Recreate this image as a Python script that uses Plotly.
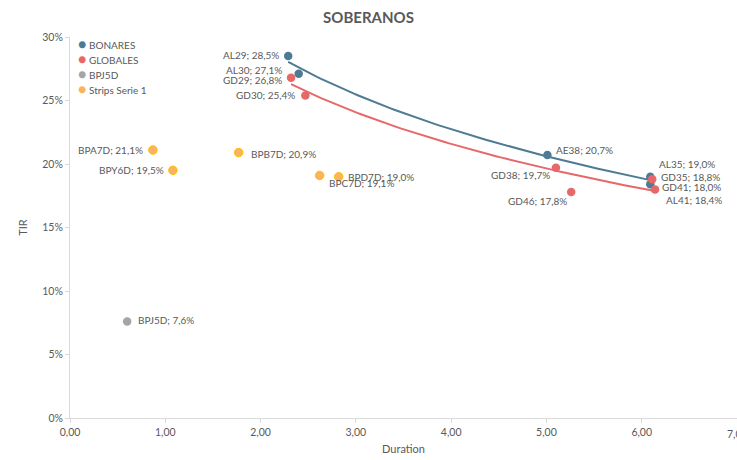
import numpy as np
import plotly.graph_objects as go

# ---- data ----
bon_names = ["AL29", "AL30", "AE38", "AL35", "AL41"]
bon_x = [2.29, 2.40, 5.01, 6.09, 6.09]
bon_y = [28.5, 27.1, 20.7, 19.0, 18.4]

glo_names = ["GD29", "GD30", "GD38", "GD46", "GD35", "GD41"]
glo_x = [2.32, 2.47, 5.10, 5.26, 6.11, 6.14]
glo_y = [26.8, 25.4, 19.7, 17.8, 18.8, 18.0]

bpj_names = ["BPJ5D"]
bpj_x = [0.60]
bpj_y = [7.6]

str_names = ["BPA7D", "BPY6D", "BPB7D", "BPC7D", "BPD7D"]
str_x = [0.87, 1.08, 1.77, 2.62, 2.82]
str_y = [21.1, 19.5, 20.9, 19.1, 19.0]

x_max = 7

C_BON = "#4E7B93"
C_GLO = "#E8686A"
C_BPJ = "#A5A5A5"
C_STR = "#FBB261"
TXT = "#595959"
FONT = "Lato"

# label placement: name -> (xanchor, xshift, yshift)
label_pos = {
    "AL29": ("right", -7, 1), "AL30": ("right", -15, 4), "GD29": ("right", -7, -2),
    "GD30": ("right", -8, 0), "AE38": ("left", 7, 5), "AL35": ("left", 7, 13),
    "GD35": ("left", 7, 2), "GD41": ("left", 5, 2), "AL41": ("left", 14, -16),
    "GD38": ("right", -4, -7), "GD46": ("right", -2, -9),
    "BPA7D": ("right", -8, 0), "BPY6D": ("right", -7, 0), "BPB7D": ("left", 10, -1),
    "BPC7D": ("left", 7, -8), "BPD7D": ("left", 7, 0), "BPJ5D": ("left", 9, 1),
}

def fmt(v):
    return f"{v:.1f}%".replace(".", ",")

fig = go.Figure()

series = [
    ("BONARES", bon_names, bon_x, bon_y, C_BON),
    ("GLOBALES", glo_names, glo_x, glo_y, C_GLO),
    ("BPJ5D", bpj_names, bpj_x, bpj_y, C_BPJ),
    ("Strips Serie 1", str_names, str_x, str_y, C_STR),
]

# trendlines (logarithmic fit) for BONARES and GLOBALES
for name, xs, ys, col in [("BONARES", bon_x, bon_y, C_BON), ("GLOBALES", glo_x, glo_y, C_GLO)]:
    b, a = np.polyfit(np.log(xs), ys, 1)
    xx = np.linspace(min(xs), max(xs), 100)
    fig.add_trace(go.Scatter(x=xx, y=a + b * np.log(xx), mode="lines",
                             line=dict(color=col, width=2), showlegend=False,
                             hoverinfo="skip"))

for i, (name, names, xs, ys, col) in enumerate(series):
    marker = dict(color=col, size=8.5)
    if name == "Strips Serie 1":
        marker["line"] = dict(color="#FFC000", width=1)
    fig.add_trace(go.Scatter(x=xs, y=ys, mode="markers", name=name, marker=marker,
                             showlegend=False))
    for n, x, y in zip(names, xs, ys):
        anc, dx, dy = label_pos[n]
        fig.add_annotation(x=x, y=y, text=f"{n}; {fmt(y)}", showarrow=False,
                           xanchor=anc, yanchor="middle", xshift=dx, yshift=dy,
                           font=dict(family=FONT, size=10, color=TXT))
    # legend entry
    fig.add_annotation(xref="paper", yref="paper", x=0.0, y=1.0, xanchor="left",
                       yanchor="middle", xshift=6, yshift=-6 - 15.3 * i, showarrow=False,
                       text=f'<span style="color:{col};font-size:14px">●</span> {name}',
                       font=dict(family=FONT, size=10, color=TXT))

# last x tick label (cut by the page edge as in the original)
fig.add_annotation(x=x_max, xref="x", y=0, yref="paper", yanchor="top", yshift=-8,
                   showarrow=False, text=f"{x_max:.2f}".replace(".", ","),
                   font=dict(family=FONT, size=10.5, color=TXT))

fig.update_layout(
    width=737, height=460,
    margin=dict(l=70, r=0, t=37, b=42),
    paper_bgcolor="white", plot_bgcolor="white",
    separators=",.",
    font=dict(family=FONT, size=10, color=TXT),
    title=dict(text="<b>SOBERANOS</b>", x=0.5, xanchor="center", y=0.962, yanchor="middle",
               font=dict(family=FONT, size=15, color=TXT)),
    showlegend=False,
)
fig.update_xaxes(range=[0, x_max], dtick=1, tickformat=".2f", showgrid=False, zeroline=False,
                 showline=True, linecolor="#D9D9D9", linewidth=1, ticks="outside",
                 tickcolor="#D9D9D9", ticklen=4,
                 title=dict(text="Duration", standoff=8, font=dict(size=11, color=TXT)),
                 tickfont=dict(size=10.5, color=TXT))
fig.update_yaxes(range=[0, 30], dtick=5, ticksuffix="%", tickformat=".0f", showgrid=False,
                 zeroline=False, showline=True, linecolor="#D9D9D9", linewidth=1,
                 ticks="outside", tickcolor="#D9D9D9", ticklen=4,
                 title=dict(text="TIR", standoff=12, font=dict(size=11, color=TXT)),
                 tickfont=dict(size=10.5, color=TXT))

fig.write_html("out.html", config={"displayModeBar": False},
               post_script="document.body.style.margin='0';")
